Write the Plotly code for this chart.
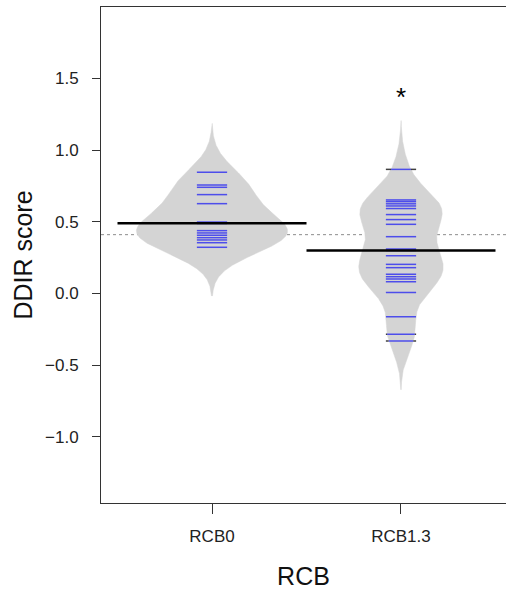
import numpy as np
import plotly.graph_objects as go

# ---------------- data ----------------
categories = ["RCB0", "RCB1.3"]
rcb0_scores = [0.845, 0.756, 0.740, 0.689, 0.626, 0.498, 0.493, 0.488,
               0.438, 0.422, 0.406, 0.389, 0.373, 0.354, 0.322]
rcb13_scores = [0.865, 0.652, 0.640, 0.625, 0.610, 0.592, 0.550, 0.515,
                0.482, 0.396, 0.310, 0.300, 0.263, 0.203, 0.180, 0.134,
                0.117, 0.101, 0.082, 0.007, -0.162, -0.284, -0.331]
bean_average = [0.49, 0.30]
overall_line = 0.41
significance = ["", "*"]
significance_y = 1.40
y_ticks = [-1.0, -0.5, 0.0, 0.5, 1.0, 1.5]

series = [rcb0_scores, rcb13_scores]
positions = [i + 1 for i in range(len(categories))]

# ---------------- bean (kernel density) shapes ----------------
bw = 0.126
cut = 2.7
max_half_width = 0.4
beanline_half = 0.08
avg_half = 0.5


def kde(vals):
    v = np.asarray(vals, dtype=float)
    grid = np.linspace(v.min() - cut * bw, v.max() + cut * bw, 500)
    d = np.exp(-0.5 * ((grid[:, None] - v[None, :]) / bw) ** 2).sum(1)
    d /= len(v) * bw * np.sqrt(2 * np.pi)
    return grid, d


dens = [kde(s) for s in series]
dmax = max(d.max() for _, d in dens)

fig = go.Figure()

# overall (dotted) line
fig.add_shape(type="line", xref="paper", x0=0, x1=1, yref="y",
              y0=overall_line, y1=overall_line, layer="below",
              line=dict(color="#8c8c8c", width=1, dash="dot"))

for pos, (grid, d), vals, avg in zip(positions, dens, series, bean_average):
    hw = max_half_width * d / dmax
    xs = np.concatenate([pos - hw, (pos + hw)[::-1]])
    ys = np.concatenate([grid, grid[::-1]])
    fig.add_trace(go.Scatter(x=xs, y=ys, mode="lines", fill="toself",
                             fillcolor="rgb(212,212,212)",
                             line=dict(color="rgb(212,212,212)", width=0.5),
                             hoverinfo="skip", showlegend=False))
    # bean lines: inside the bean blue, outside the bean black
    bx, by, kx, ky = [], [], [], []
    for v in vals:
        w = float(np.interp(v, grid, hw))
        inner = min(w, beanline_half)
        bx += [pos - inner, pos + inner, None]
        by += [v, v, None]
        if w < beanline_half:
            kx += [pos - beanline_half, pos - w, None, pos + w, pos + beanline_half, None]
            ky += [v, v, None, v, v, None]
    fig.add_trace(go.Scatter(x=bx, y=by, mode="lines",
                             line=dict(color="rgba(20,20,245,0.7)", width=1.5),
                             hoverinfo="skip", showlegend=False))
    if kx:
        fig.add_trace(go.Scatter(x=kx, y=ky, mode="lines",
                                 line=dict(color="rgba(0,0,0,0.75)", width=1.5),
                                 hoverinfo="skip", showlegend=False))
    fig.add_trace(go.Scatter(x=[pos - avg_half, pos + avg_half], y=[avg, avg],
                             mode="lines", line=dict(color="black", width=2.5),
                             hoverinfo="skip", showlegend=False))

for pos, lab in zip(positions, significance):
    if lab:
        fig.add_annotation(x=pos, y=significance_y, text=lab, showarrow=False,
                           yanchor="middle", yshift=-4,
                           font=dict(family="Liberation Sans", size=26, color="black"))

font_family = "Liberation Sans"
fig.update_layout(
    width=506, height=596,
    margin=dict(l=101, r=0, t=7, b=93),
    plot_bgcolor="white", paper_bgcolor="white",
    font=dict(family=font_family, color="#222"),
    showlegend=False,
)
fig.update_xaxes(
    range=[0.4127, 2.5556], showgrid=False, zeroline=False,
    showline=True, mirror=True, linecolor="#333", linewidth=1,
    ticks="outside", ticklen=10, tickcolor="#333", tickwidth=1,
    tickvals=positions, ticktext=categories,
    tickfont=dict(size=17, family=font_family, color="#222"),
    ticklabelstandoff=8,
    title=dict(text="RCB", font=dict(size=25, family=font_family, color="#111"), standoff=22),
)
fig.update_yaxes(
    range=[-1.46, 1.9965], showgrid=False, zeroline=False,
    showline=True, mirror=True, linecolor="#333", linewidth=1,
    ticks="outside", ticklen=8, tickcolor="#333", tickwidth=1,
    tickvals=y_ticks, tickformat=".1f",
    tickfont=dict(size=17, family=font_family, color="#222"),
    ticklabelstandoff=10,
    title=dict(text="DDIR score", font=dict(size=25, family=font_family, color="#111"), standoff=5),
)

fig.write_html("out.html", config={"displayModeBar": False},
               post_script="document.body.style.margin='0';document.body.style.overflow='hidden';")
